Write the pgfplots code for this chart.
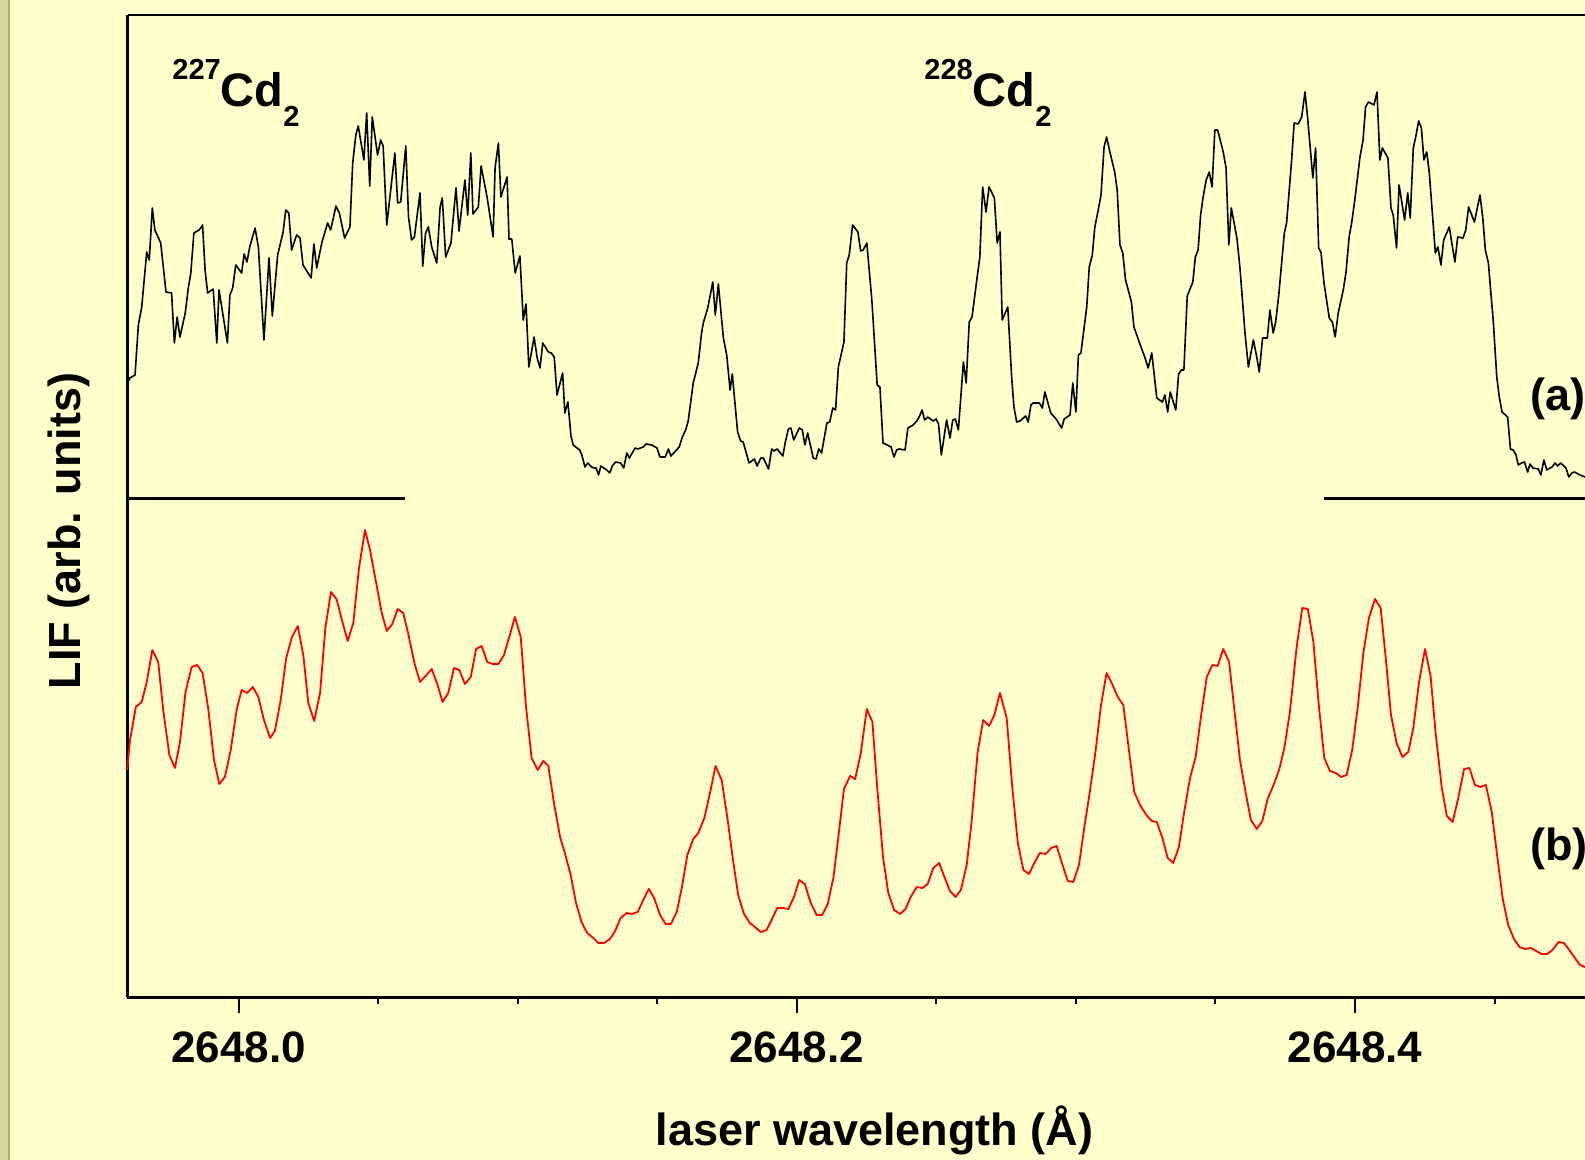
\documentclass[border=0pt]{standalone}
\usepackage{fontspec}
\setmainfont{Liberation Sans}
\usepackage{pgfplots}
\pgfplotsset{compat=1.18}
\definecolor{panel}{RGB}{255,255,204}
\definecolor{edge}{RGB}{214,214,152}
\definecolor{edgeline}{RGB}{176,176,118}
\definecolor{lifred}{RGB}{255,0,0}

\begin{document}
\begin{tikzpicture}
% page background and the strip on the left margin
\fill[panel] (-63.75pt,-81.25pt) rectangle (728.75pt,498.75pt);
\fill[edge] (-63.75pt,-81.25pt) rectangle (-59.25pt,498.75pt);
\draw[edgeline, line width=0.6pt] (-59.25pt,-81.25pt) -- (-59.25pt,498.75pt);

\begin{axis}[
  name=ax, at={(0pt,0pt)}, anchor=south west,
  scale only axis, width=736.25pt, height=491.25pt,
  xmin=2647.9602, xmax=2648.4878, ymin=2.5, ymax=985,
  clip=false,
  axis x line*=bottom, axis y line*=left,
  axis line style={-, line width=1.5pt},
  ytick=\empty,
  xtick={2648.0,2648.2,2648.4},
  xticklabels={2648.0,2648.2,2648.4},
  minor xtick={2648.05,2648.1,2648.15,2648.25,2648.3,2648.35,2648.45},
  tick align=outside, major tick length=8pt, minor tick length=3.5pt,
  every tick/.style={black, line width=1pt},
  /pgf/number format/assume math mode=true,
  xticklabel style={font=\fontsize{22}{22}\selectfont\bfseries, anchor=base, yshift=-24.75pt},
  xlabel={laser wavelength (Å)},
  ylabel={LIF (arb. units)},
  xlabel style={at={(rel axis cs:0.5073,-0.1511)}, anchor=base, font=\fontsize{22.5}{22.5}\selectfont\bfseries},
  ylabel style={at={(rel axis cs:-0.0397,0.4748)}, anchor=center, font=\fontsize{22.5}{22.5}\selectfont\bfseries},
]

% baselines separating the two spectra
\addplot[black, line width=1.5pt] coordinates {(2647.9602,501) (2648.0596,501)};
\addplot[black, line width=1.5pt] coordinates {(2648.3889,501) (2648.4878,501)};

% (a) LIF spectrum, upper trace
\addplot[black, line width=0.8pt, line join=round] coordinates {
(2647.9601,617) (2647.9611,622) (2647.9629,625) (2647.9641,675) (2647.9653,693)
(2647.9671,748) (2647.9680,740) (2647.9691,792) (2647.9700,770) (2647.9721,757)
(2647.9740,708) (2647.9760,707) (2647.9770,657) (2647.9780,683) (2647.9790,663)
(2647.9809,687) (2647.9820,712) (2647.9829,727) (2647.9840,767) (2647.9859,770)
(2647.9871,775) (2647.9880,730) (2647.9889,707) (2647.9909,711) (2647.9922,657)
(2647.9930,710) (2647.9960,657) (2647.9969,705) (2647.9979,712) (2647.9990,735)
(2648.0011,727) (2648.0020,746) (2648.0030,738) (2648.0040,753) (2648.0059,772)
(2648.0071,753) (2648.0091,660) (2648.0109,742) (2648.0121,684) (2648.0140,745)
(2648.0159,767) (2648.0169,790) (2648.0180,787) (2648.0190,750) (2648.0208,765)
(2648.0220,762) (2648.0231,735) (2648.0260,722) (2648.0270,756) (2648.0280,732)
(2648.0298,757) (2648.0319,777) (2648.0330,770) (2648.0349,794) (2648.0361,787)
(2648.0380,762) (2648.0399,773) (2648.0409,837) (2648.0420,865) (2648.0429,874)
(2648.0449,840) (2648.0459,887) (2648.0470,814) (2648.0479,883) (2648.0498,845)
(2648.0509,860) (2648.0518,854) (2648.0531,775) (2648.0560,847) (2648.0570,797)
(2648.0581,798) (2648.0599,854) (2648.0609,783) (2648.0620,760) (2648.0630,763)
(2648.0650,807) (2648.0660,734) (2648.0670,767) (2648.0680,773) (2648.0692,753)
(2648.0710,737) (2648.0722,793) (2648.0730,802) (2648.0742,743) (2648.0761,757)
(2648.0779,812) (2648.0790,769) (2648.0811,820) (2648.0821,785) (2648.0832,847)
(2648.0840,786) (2648.0859,793) (2648.0869,834) (2648.0891,802) (2648.0912,763)
(2648.0919,832) (2648.0931,857) (2648.0940,803) (2648.0962,823) (2648.0969,761)
(2648.0979,761) (2648.0991,727) (2648.1008,744) (2648.1020,680) (2648.1030,696)
(2648.1040,633) (2648.1059,663) (2648.1070,642) (2648.1080,632) (2648.1090,657)
(2648.1110,648) (2648.1120,647) (2648.1131,643) (2648.1141,605) (2648.1161,627)
(2648.1169,587) (2648.1180,598) (2648.1191,564) (2648.1199,555) (2648.1222,550)
(2648.1230,545) (2648.1241,533) (2648.1251,537) (2648.1265,533) (2648.1274,532)
(2648.1281,532) (2648.1290,525) (2648.1298,534) (2648.1319,530) (2648.1330,527)
(2648.1339,534) (2648.1351,538) (2648.1369,537) (2648.1380,532) (2648.1391,547)
(2648.1400,542) (2648.1421,552) (2648.1430,551) (2648.1450,553) (2648.1460,556)
(2648.1480,555) (2648.1499,552) (2648.1510,543) (2648.1529,543) (2648.1540,551)
(2648.1549,544) (2648.1579,553) (2648.1590,563) (2648.1602,570) (2648.1611,579)
(2648.1629,617) (2648.1647,637) (2648.1659,667) (2648.1665,677) (2648.1681,692)
(2648.1699,718) (2648.1708,685) (2648.1719,716) (2648.1737,662) (2648.1749,645)
(2648.1761,610) (2648.1769,626) (2648.1788,568) (2648.1799,559) (2648.1808,558)
(2648.1829,537) (2648.1848,541) (2648.1858,534) (2648.1871,542) (2648.1880,542)
(2648.1899,531) (2648.1910,551) (2648.1918,549) (2648.1930,551) (2648.1950,544)
(2648.1959,558) (2648.1970,571) (2648.1979,572) (2648.1989,560) (2648.2009,572)
(2648.2020,570) (2648.2029,555) (2648.2039,567) (2648.2059,542) (2648.2069,541)
(2648.2079,551) (2648.2089,547) (2648.2108,577) (2648.2118,578) (2648.2129,592)
(2648.2139,590) (2648.2149,633) (2648.2169,658) (2648.2179,737) (2648.2188,745)
(2648.2200,775) (2648.2219,768) (2648.2229,749) (2648.2238,750) (2648.2251,757)
(2648.2269,700) (2648.2288,615) (2648.2298,613) (2648.2309,557) (2648.2338,553)
(2648.2348,543) (2648.2358,550) (2648.2367,551) (2648.2388,550) (2648.2398,572)
(2648.2417,575) (2648.2430,579) (2648.2440,584) (2648.2449,590) (2648.2458,580)
(2648.2469,583) (2648.2489,579) (2648.2499,581) (2648.2508,576) (2648.2518,545)
(2648.2537,580) (2648.2549,562) (2648.2559,580) (2648.2568,581) (2648.2579,570)
(2648.2597,638) (2648.2607,617) (2648.2618,678) (2648.2628,683) (2648.2645,720)
(2648.2656,743) (2648.2666,813) (2648.2678,788) (2648.2689,813) (2648.2708,802)
(2648.2718,757) (2648.2728,768) (2648.2736,680) (2648.2756,693) (2648.2770,623)
(2648.2778,593) (2648.2788,578) (2648.2800,579) (2648.2820,584) (2648.2829,578)
(2648.2839,595) (2648.2847,597) (2648.2869,597) (2648.2880,592) (2648.2889,608)
(2648.2910,587) (2648.2929,581) (2648.2949,572) (2648.2958,581) (2648.2979,585)
(2648.2989,617) (2648.3000,588) (2648.3009,645) (2648.3018,647) (2648.3039,693)
(2648.3048,733) (2648.3059,745) (2648.3068,773) (2648.3078,787) (2648.3090,805)
(2648.3101,853) (2648.3110,863) (2648.3122,848) (2648.3139,828) (2648.3148,810)
(2648.3158,755) (2648.3168,747) (2648.3178,720) (2648.3199,698) (2648.3208,673)
(2648.3227,658) (2648.3248,642) (2648.3259,632) (2648.3272,647) (2648.3290,602)
(2648.3310,598) (2648.3319,605) (2648.3329,588) (2648.3338,608) (2648.3358,590)
(2648.3368,626) (2648.3378,630) (2648.3387,630) (2648.3399,704) (2648.3419,718)
(2648.3428,743) (2648.3438,750) (2648.3447,785) (2648.3456,803) (2648.3467,820)
(2648.3478,828) (2648.3488,813) (2648.3498,870) (2648.3508,870) (2648.3528,848)
(2648.3538,832) (2648.3548,755) (2648.3557,792) (2648.3577,762) (2648.3588,732)
(2648.3606,667) (2648.3618,633) (2648.3636,660) (2648.3648,643) (2648.3657,628)
(2648.3669,662) (2648.3686,662) (2648.3695,690) (2648.3707,667) (2648.3716,678)
(2648.3727,705) (2648.3747,767) (2648.3755,777) (2648.3773,840) (2648.3782,877)
(2648.3797,876) (2648.3809,883) (2648.3821,908) (2648.3831,880) (2648.3849,822)
(2648.3859,852) (2648.3870,752) (2648.3878,748) (2648.3889,717) (2648.3908,682)
(2648.3919,678) (2648.3929,663) (2648.3940,687) (2648.3958,710) (2648.3968,728)
(2648.3979,763) (2648.3988,777) (2648.3998,797) (2648.4008,820) (2648.4018,843)
(2648.4029,860) (2648.4038,893) (2648.4048,898) (2648.4068,895) (2648.4079,908)
(2648.4089,840) (2648.4098,852) (2648.4118,842) (2648.4129,792) (2648.4137,785)
(2648.4149,752) (2648.4158,815) (2648.4178,780) (2648.4189,807) (2648.4198,782)
(2648.4209,852) (2648.4219,865) (2648.4228,879) (2648.4238,872) (2648.4247,840)
(2648.4257,848) (2648.4266,828) (2648.4288,747) (2648.4297,753) (2648.4308,735)
(2648.4318,760) (2648.4338,773) (2648.4348,755) (2648.4358,738) (2648.4368,763)
(2648.4387,762) (2648.4397,770) (2648.4407,793) (2648.4428,778) (2648.4448,805)
(2648.4458,782) (2648.4467,750) (2648.4478,737) (2648.4496,677) (2648.4508,623)
(2648.4517,603) (2648.4527,588) (2648.4547,583) (2648.4557,551) (2648.4567,550)
(2648.4577,545) (2648.4585,535) (2648.4597,537) (2648.4607,538) (2648.4619,528)
(2648.4627,536) (2648.4637,532) (2648.4657,531) (2648.4666,525) (2648.4677,540)
(2648.4687,530) (2648.4706,533) (2648.4717,537) (2648.4726,534) (2648.4737,537)
(2648.4756,532) (2648.4766,523) (2648.4777,527) (2648.4786,528) (2648.4806,525)
(2648.4824,523) (2648.4860,526)
};

% (b) LIF spectrum, lower trace
\addplot[lifred, line width=0.9pt, line join=round] coordinates {
(2647.9601,230) (2647.9611,260) (2647.9632,293) (2647.9653,298) (2647.9671,318)
(2647.9691,350) (2647.9712,338) (2647.9730,290) (2647.9752,245) (2647.9772,232)
(2647.9790,258) (2647.9810,308) (2647.9832,333) (2647.9852,335) (2647.9871,327)
(2647.9891,292) (2647.9912,240) (2647.9931,216) (2647.9951,223) (2647.9972,250)
(2647.9993,290) (2648.0011,310) (2648.0031,307) (2648.0051,313) (2648.0071,303)
(2648.0091,280) (2648.0113,262) (2648.0130,269) (2648.0151,300) (2648.0170,341)
(2648.0190,362) (2648.0212,374) (2648.0232,345) (2648.0250,297) (2648.0271,279)
(2648.0292,307) (2648.0311,372) (2648.0331,408) (2648.0351,401) (2648.0370,380)
(2648.0391,359) (2648.0411,377) (2648.0431,431) (2648.0453,470) (2648.0471,450)
(2648.0491,420) (2648.0513,387) (2648.0531,369) (2648.0551,376) (2648.0570,391)
(2648.0590,387) (2648.0609,365) (2648.0630,337) (2648.0650,318) (2648.0670,324)
(2648.0692,331) (2648.0712,316) (2648.0731,298) (2648.0751,307) (2648.0772,332)
(2648.0791,330) (2648.0811,316) (2648.0832,323) (2648.0851,351) (2648.0871,354)
(2648.0891,338) (2648.0910,336) (2648.0931,336) (2648.0951,345) (2648.0970,363)
(2648.0990,383) (2648.1011,363) (2648.1030,293) (2648.1050,242) (2648.1072,230)
(2648.1092,239) (2648.1110,234) (2648.1130,197) (2648.1152,163) (2648.1169,147)
(2648.1190,125) (2648.1209,97) (2648.1229,78) (2648.1249,67) (2648.1271,62)
(2648.1289,57) (2648.1309,57) (2648.1331,61) (2648.1349,69) (2648.1369,82)
(2648.1391,87) (2648.1409,86) (2648.1430,88) (2648.1450,100) (2648.1470,111)
(2648.1489,102) (2648.1510,85) (2648.1530,76) (2648.1549,76) (2648.1570,88)
(2648.1588,112) (2648.1608,145) (2648.1629,161) (2648.1647,167) (2648.1669,182)
(2648.1689,207) (2648.1709,234) (2648.1731,220) (2648.1751,183) (2648.1770,143)
(2648.1790,105) (2648.1811,86) (2648.1832,77) (2648.1850,73) (2648.1871,68)
(2648.1892,70) (2648.1910,80) (2648.1930,92) (2648.1950,92) (2648.1970,91)
(2648.1990,103) (2648.2009,120) (2648.2029,116) (2648.2050,97) (2648.2071,85)
(2648.2091,85) (2648.2111,96) (2648.2131,122) (2648.2149,163) (2648.2169,211)
(2648.2191,224) (2648.2209,221) (2648.2229,246) (2648.2251,291) (2648.2271,278)
(2648.2288,213) (2648.2309,143) (2648.2328,107) (2648.2349,90) (2648.2370,86)
(2648.2390,91) (2648.2408,103) (2648.2430,113) (2648.2450,112) (2648.2469,116)
(2648.2489,132) (2648.2510,137) (2648.2529,123) (2648.2549,109) (2648.2569,103)
(2648.2588,110) (2648.2609,135) (2648.2627,180) (2648.2648,248) (2648.2668,280)
(2648.2689,274) (2648.2708,285) (2648.2728,307) (2648.2752,282) (2648.2772,213)
(2648.2792,157) (2648.2812,130) (2648.2832,126) (2648.2851,137) (2648.2871,147)
(2648.2892,146) (2648.2911,152) (2648.2931,154) (2648.2951,136) (2648.2971,119)
(2648.2991,118) (2648.3011,135) (2648.3030,172) (2648.3051,210) (2648.3071,250)
(2648.3090,295) (2648.3110,327) (2648.3130,316) (2648.3150,303) (2648.3170,295)
(2648.3190,250) (2648.3209,208) (2648.3230,195) (2648.3250,186) (2648.3272,179)
(2648.3290,178) (2648.3310,162) (2648.3329,142) (2648.3349,137) (2648.3369,153)
(2648.3388,188) (2648.3409,222) (2648.3429,243) (2648.3448,283) (2648.3469,323)
(2648.3489,335) (2648.3508,334) (2648.3528,351) (2648.3549,338) (2648.3568,290)
(2648.3588,240) (2648.3608,208) (2648.3627,180) (2648.3648,171) (2648.3668,179)
(2648.3687,201) (2648.3707,214) (2648.3728,230) (2648.3747,252) (2648.3767,288)
(2648.3791,353) (2648.3811,392) (2648.3831,391) (2648.3851,358) (2648.3871,293)
(2648.3890,242) (2648.3910,229) (2648.3931,227) (2648.3950,223) (2648.3970,225)
(2648.3990,250) (2648.4010,293) (2648.4030,347) (2648.4050,382) (2648.4072,401)
(2648.4092,392) (2648.4110,343) (2648.4129,285) (2648.4149,257) (2648.4170,243)
(2648.4191,248) (2648.4209,272) (2648.4229,317) (2648.4251,351) (2648.4271,324)
(2648.4289,267) (2648.4311,212) (2648.4329,184) (2648.4350,178) (2648.4370,202)
(2648.4391,231) (2648.4410,232) (2648.4430,215) (2648.4450,213) (2648.4469,215)
(2648.4490,188) (2648.4510,143) (2648.4529,102) (2648.4549,75) (2648.4570,61)
(2648.4589,53) (2648.4609,51) (2648.4630,52) (2648.4649,49) (2648.4669,46)
(2648.4689,46) (2648.4708,50) (2648.4729,58) (2648.4749,57) (2648.4768,50)
(2648.4788,42) (2648.4806,35) (2648.4824,33) (2648.4846,32)
};
\end{axis}

% top frame line
\draw[black, line width=1pt] (ax.north west) -- (ax.north east);

% isotopologue and trace labels
\node[anchor=base west, inner sep=0pt, font=\fontsize{23.5}{23.5}\selectfont\bfseries]
  at (22.25pt,445.25pt) {\raisebox{13.5pt}{\fontsize{14.5}{14.5}\selectfont 227}Cd\raisebox{-10pt}{\fontsize{14.5}{14.5}\selectfont 2}};
\node[anchor=base west, inner sep=0pt, font=\fontsize{23.5}{23.5}\selectfont\bfseries]
  at (398.25pt,445.25pt) {\raisebox{13.5pt}{\fontsize{14.5}{14.5}\selectfont 228}Cd\raisebox{-10pt}{\fontsize{14.5}{14.5}\selectfont 2}};
\node[anchor=base west, inner sep=0pt, font=\fontsize{22.5}{22.5}\selectfont\bfseries]
  at (701.25pt,293.25pt) {(a)};
\node[anchor=base west, inner sep=0pt, font=\fontsize{22.5}{22.5}\selectfont\bfseries]
  at (701.25pt,68.25pt) {(b)};

\pgfresetboundingbox
\useasboundingbox (-63.75pt,-81.25pt) rectangle (728.75pt,498.75pt);
\end{tikzpicture}
\end{document}
